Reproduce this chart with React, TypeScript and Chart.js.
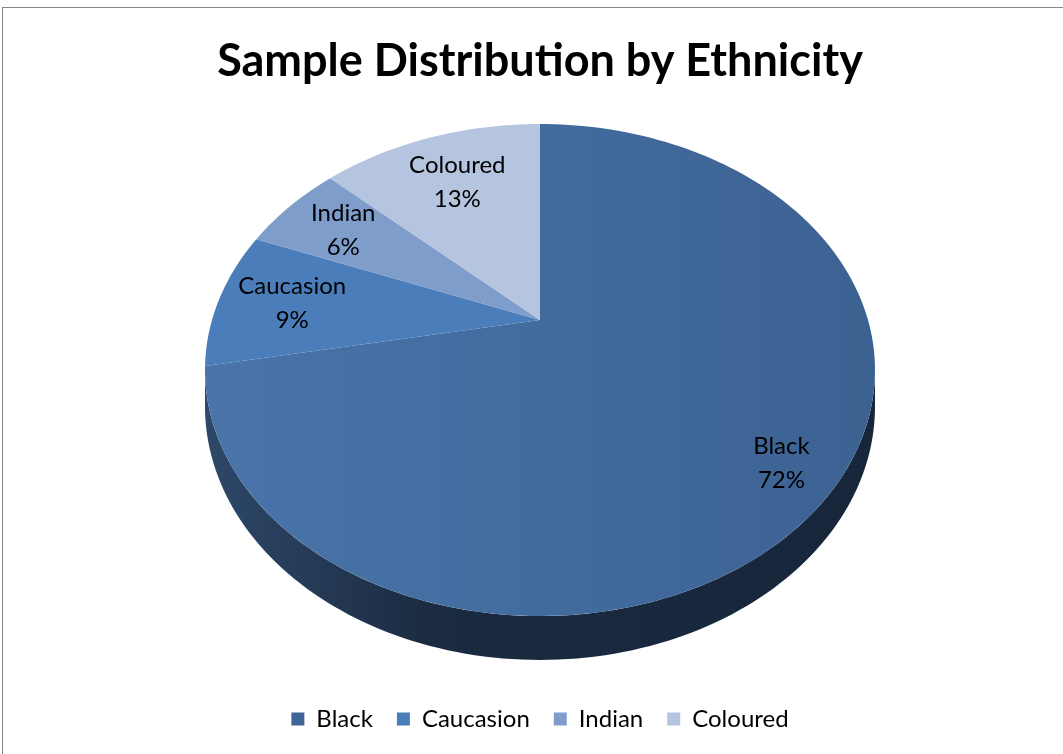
import React, { useEffect, useRef } from "react";
import { Chart, registerables } from "chart.js";

Chart.register(...registerables);

const categories: string[] = ["Black", "Caucasion", "Indian", "Coloured"];
const values: number[] = [72, 9, 6, 13];
const titleText = "Sample Distribution by Ethnicity";

const sliceColors = ["#3F6597", "#4A7DBA", "#7F9DCB", "#B5C4DF"];
const sideColors = [
  ["#2E4869", "#1A2A3F", "#17263A"],
  ["#2F5078", "#22395A", "#1E3350"],
  ["#52688A", "#3D506C", "#384A64"],
  ["#77839A", "#5C677C", "#566176"],
];
const labelRadius = [0.85, 0.77, 0.77, 0.72];

const FONT = "Lato, 'Open Sans', sans-serif";

// projection constants (unit radius)
const TILT_Y = 0.719;
const PERSP = 0.2033;
const DEPTH = 0.1067;
const HALF_W = 1 / Math.sqrt(1 - PERSP * PERSP);
const TOP_EXT = TILT_Y / (1 + PERSP);
const BOT_EXT = (TILT_Y + DEPTH) / (1 - PERSP);

function project(theta: number, f: number, s: number, cx: number, cy: number) {
  const u = f * Math.sin(theta);
  const v = f * Math.cos(theta);
  const den = 1 + PERSP * v;
  return [cx + (s * u) / den, cy - (s * TILT_Y * v) / den];
}

const borderPlugin = {
  id: "frame",
  beforeDraw(chart: any) {
    const ctx = chart.ctx;
    ctx.save();
    ctx.fillStyle = "#ffffff";
    ctx.fillRect(0, 0, chart.width, chart.height);
    ctx.strokeStyle = "#868686";
    ctx.lineWidth = 1;
    ctx.strokeRect(2.5, 7.5, chart.width + 20, chart.height + 20);
    ctx.restore();
  },
};

const pie3dPlugin = {
  id: "pie3d",
  beforeDatasetsDraw(chart: any) {
    const meta = chart.getDatasetMeta(0);
    const ca = chart.chartArea;
    const w = ca.right - ca.left;
    const h = ca.bottom - ca.top;
    const s = Math.min(w / (2 * HALF_W), h / (TOP_EXT + BOT_EXT));
    const cx = (ca.left + ca.right) / 2;
    const cy = (ca.top + ca.bottom) / 2 - ((BOT_EXT - TOP_EXT) / 2) * s;
    const ctx = chart.ctx;
    const N = 120;
    ctx.save();

    const sil1 = Math.acos(-PERSP);
    const sil2 = 2 * Math.PI - sil1;
    const leftX = cx - s * HALF_W;
    const rightX = cx + s * HALF_W;

    // side walls
    meta.data.forEach((el: any, i: number) => {
      const t0 = el.startAngle + Math.PI / 2;
      const t1 = el.endAngle + Math.PI / 2;
      const a0 = Math.max(t0, sil1);
      const a1 = Math.min(t1, sil2);
      if (a1 <= a0) return;
      ctx.beginPath();
      for (let j = 0; j <= N; j++) {
        const t = a0 + ((a1 - a0) * j) / N;
        const p = project(t, 1, s, cx, cy);
        if (j === 0) ctx.moveTo(p[0], p[1]);
        else ctx.lineTo(p[0], p[1]);
      }
      for (let j = N; j >= 0; j--) {
        const t = a0 + ((a1 - a0) * j) / N;
        const p = project(t, 1, s, cx, cy);
        const d = (s * DEPTH) / (1 + PERSP * Math.cos(t));
        ctx.lineTo(p[0], p[1] + d);
      }
      ctx.closePath();
      const g = ctx.createLinearGradient(leftX, 0, rightX, 0);
      g.addColorStop(0, sideColors[i][0]);
      g.addColorStop(0.35, sideColors[i][1]);
      g.addColorStop(1, sideColors[i][2]);
      ctx.fillStyle = g;
      ctx.fill();
    });

    // top faces
    meta.data.forEach((el: any, i: number) => {
      const t0 = el.startAngle + Math.PI / 2;
      const t1 = el.endAngle + Math.PI / 2;
      ctx.beginPath();
      const apex = project(0, 0, s, cx, cy);
      ctx.moveTo(apex[0], apex[1]);
      const n = Math.max(8, Math.ceil((N * (t1 - t0)) / Math.PI));
      for (let j = 0; j <= n; j++) {
        const t = t0 + ((t1 - t0) * j) / n;
        const p = project(t, 1, s, cx, cy);
        ctx.lineTo(p[0], p[1]);
      }
      ctx.closePath();
      if (i === 0) {
        const g = ctx.createLinearGradient(leftX, cy, rightX, cy);
        g.addColorStop(0, "#4A74AA");
        g.addColorStop(0.45, "#436C9F");
        g.addColorStop(1, "#3C6292");
        ctx.fillStyle = g;
      } else {
        ctx.fillStyle = sliceColors[i];
      }
      ctx.fill();
    });

    // data labels
    const total = values.reduce((a, b) => a + b, 0);
    ctx.fillStyle = "#000000";
    ctx.font = `24px ${FONT}`;
    ctx.textAlign = "center";
    ctx.textBaseline = "middle";
    meta.data.forEach((el: any, i: number) => {
      const mid = (el.startAngle + el.endAngle) / 2 + Math.PI / 2;
      const p = project(mid, labelRadius[i], s, cx, cy);
      const pct = Math.round((values[i] / total) * 100) + "%";
      ctx.fillText(categories[i], p[0], p[1] - 17);
      ctx.fillText(pct, p[0], p[1] + 17);
    });

    ctx.restore();
    return false;
  },
};

export default function App() {
  const ref = useRef<HTMLCanvasElement | null>(null);
  useEffect(() => {
    if (!ref.current) return;
    const chart = new Chart(ref.current, {
      type: "pie",
      data: {
        labels: categories,
        datasets: [
          {
            data: values,
            backgroundColor: sliceColors,
            borderWidth: 0,
          },
        ],
      },
      options: {
        responsive: false,
        animation: false,
        events: [],
        layout: { padding: { left: 205, right: 188, top: 0, bottom: 13 } },
        plugins: {
          title: {
            display: true,
            text: titleText,
            color: "#000000",
            font: { family: FONT, size: 45, weight: "bold" },
            padding: { top: 34, bottom: 13 },
          },
          legend: {
            position: "bottom",
            labels: {
              color: "#000000",
              font: { family: FONT, size: 24 },
              boxWidth: 13,
              boxHeight: 13,
              padding: 24,
            },
          },
          tooltip: { enabled: false },
        },
      },
      plugins: [borderPlugin, pie3dPlugin],
    });
    return () => chart.destroy();
  }, []);
  return (
    <div style={{ position: "absolute", left: 0, top: 0, width: 1063, height: 754 }}>
      <canvas ref={ref} width={1063} height={754} style={{ display: "block" }} />
    </div>
  );
}
